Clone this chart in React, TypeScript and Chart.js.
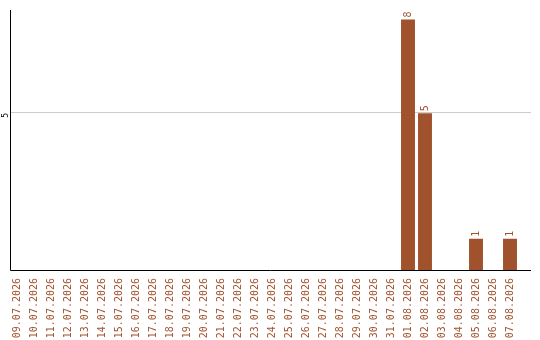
import React, { useEffect, useRef } from "react";
import { Chart, registerables } from "chart.js";

Chart.register(...registerables);

const dates = [
  "09.07.2026", "10.07.2026", "11.07.2026", "12.07.2026", "13.07.2026",
  "14.07.2026", "15.07.2026", "16.07.2026", "17.07.2026", "18.07.2026",
  "19.07.2026", "20.07.2026", "21.07.2026", "22.07.2026", "23.07.2026",
  "24.07.2026", "25.07.2026", "26.07.2026", "27.07.2026", "28.07.2026",
  "29.07.2026", "30.07.2026", "31.07.2026", "01.08.2026", "02.08.2026",
  "03.08.2026", "04.08.2026", "05.08.2026", "06.08.2026", "07.08.2026",
];

const counts = [
  0, 0, 0, 0, 0, 0, 0, 0, 0, 0,
  0, 0, 0, 0, 0, 0, 0, 0, 0, 0,
  0, 0, 0, 8, 5, 0, 0, 1, 0, 1,
];

const yTicks = [5];

const BAR = "#A0522D";
const MONO = "'DejaVu Sans Mono', monospace";

// Axis lines, the horizontal guide line and the value labels above the bars
const decorations = {
  id: "decorations",
  beforeDatasetsDraw(chart: any) {
    const { ctx, scales } = chart;
    const right = 531;
    const axisX = 10.5;
    ctx.save();
    ctx.lineWidth = 1;
    ctx.strokeStyle = "#cccccc";
    yTicks.forEach((t) => {
      const y = Math.round(scales.y.getPixelForValue(t)) - 0.5;
      ctx.beginPath();
      ctx.moveTo(axisX, y);
      ctx.lineTo(right, y);
      ctx.stroke();
    });
    ctx.fillStyle = "#000";
    ctx.font = `8px ${MONO}`;
    ctx.textAlign = "center";
    ctx.textBaseline = "middle";
    yTicks.forEach((t) => {
      const y = scales.y.getPixelForValue(t);
      ctx.save();
      ctx.translate(6, y + 2);
      ctx.rotate(-Math.PI / 2);
      ctx.fillText(String(t), 0, 0);
      ctx.restore();
    });
    ctx.restore();
  },
  afterDatasetsDraw(chart: any) {
    const { ctx, chartArea } = chart;
    const right = 531;
    const axisX = 10.5;
    const baseY = chartArea.bottom + 0.5;
    ctx.save();
    ctx.strokeStyle = "#000";
    ctx.lineWidth = 1;
    ctx.beginPath();
    ctx.moveTo(axisX, chartArea.top);
    ctx.lineTo(axisX, baseY);
    ctx.lineTo(right, baseY);
    ctx.stroke();

    const meta = chart.getDatasetMeta(0);
    ctx.fillStyle = BAR;
    ctx.font = `10px ${MONO}`;
    ctx.textAlign = "left";
    ctx.textBaseline = "middle";
    meta.data.forEach((bar: any, i: number) => {
      const v = counts[i];
      if (!v) return;
      ctx.save();
      ctx.translate(bar.x, bar.y - 2);
      ctx.rotate(-Math.PI / 2);
      ctx.fillText(String(v), 0, 0);
      ctx.restore();
    });
    ctx.restore();
  },
};

export default function App() {
  const canvasRef = useRef<HTMLCanvasElement | null>(null);

  useEffect(() => {
    document.body.style.margin = "0";
    const canvas = canvasRef.current;
    if (!canvas) return;
    const chart = new Chart(canvas, {
      type: "bar",
      data: {
        labels: dates,
        datasets: [
          {
            data: counts,
            backgroundColor: BAR,
            borderWidth: 0,
            barPercentage: 0.82,
            categoryPercentage: 1,
          },
        ],
      },
      options: {
        animation: false,
        responsive: false,
        devicePixelRatio: 1,
        layout: { padding: { top: 10, right: 21.5, left: 0, bottom: 0 } },
        plugins: { legend: { display: false }, tooltip: { enabled: false } },
        scales: {
          x: {
            type: "category",
            offset: true,
            grid: { display: false },
            border: { display: false },
            ticks: {
              autoSkip: false,
              minRotation: 90,
              maxRotation: 90,
              padding: 0,
              color: BAR,
              font: { family: MONO, size: 10 },
            },
            afterFit: (s: any) => {
              s.height = 70;
            },
          },
          y: {
            min: 0,
            max: 8.3,
            grid: { display: false },
            border: { display: false },
            ticks: { display: false },
            afterFit: (s: any) => {
              s.width = 8.5;
            },
          },
        },
      },
      plugins: [decorations],
    });
    return () => chart.destroy();
  }, []);

  return (
    <div style={{ width: 540, height: 340 }}>
      <canvas ref={canvasRef} width={540} height={340} />
    </div>
  );
}
